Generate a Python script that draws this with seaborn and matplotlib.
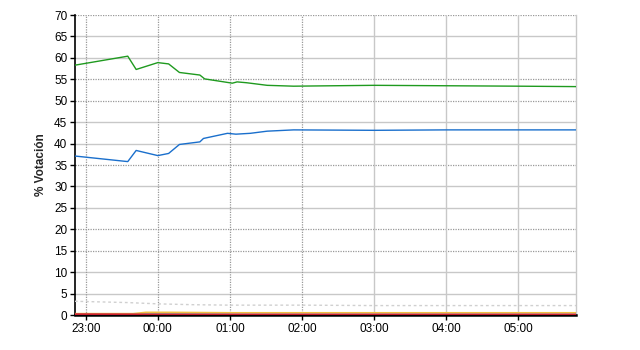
import matplotlib
matplotlib.use("Agg")
import matplotlib.pyplot as plt
import matplotlib.dates as mdates
import seaborn as sns
import pandas as pd
import numpy as np

sns.set_theme(style="white")
plt.rcParams['font.family'] = ['Liberation Sans', 'DejaVu Sans']

# Data (times as HH:MM, values in %)
green_times = ["22:51", "23:35", "23:42", "00:00", "00:09", "00:18", "00:35", "00:39",
               "01:02", "01:06", "01:14", "01:31", "01:53", "03:00", "04:00", "05:00", "05:48"]
green_vals = [58.3, 60.4, 57.3, 58.9, 58.6, 56.6, 56.0, 55.1,
              54.1, 54.4, 54.2, 53.6, 53.4, 53.6, 53.5, 53.4, 53.3]

blue_times = ["22:51", "23:35", "23:42", "00:00", "00:09", "00:18", "00:35", "00:38",
              "00:58", "01:05", "01:17", "01:31", "01:53", "03:00", "04:00", "05:00", "05:48"]
blue_vals = [37.1, 35.8, 38.4, 37.2, 37.7, 39.8, 40.4, 41.2,
             42.4, 42.2, 42.4, 42.9, 43.2, 43.1, 43.2, 43.2, 43.2]

grey_times = ["22:51", "23:35", "00:00", "00:30", "01:00", "02:00", "03:00", "04:00", "05:48"]
grey_vals = [3.2, 2.9, 2.6, 2.4, 2.3, 2.3, 2.2, 2.2, 2.2]

orange_times = ["22:51", "23:40", "23:50", "00:10", "01:00", "02:00", "03:00", "04:00", "05:48"]
orange_vals = [0.3, 0.3, 0.6, 0.6, 0.5, 0.5, 0.5, 0.5, 0.5]

cyan_times = ["23:40", "00:00", "00:30", "01:00"]
cyan_vals = [0.3, 0.3, 0.25, 0.2]

red_times = ["22:51", "00:00", "01:00", "02:00", "03:00", "04:00", "05:48"]
red_vals = [0.2, 0.15, 0.1, 0.1, 0.1, 0.1, 0.1]

purple_times = ["22:51", "00:00", "01:00", "02:00", "03:00", "04:00", "05:48"]
purple_vals = [0.1, 0.1, 0.15, 0.15, 0.15, 0.15, 0.15]

y_ticks = list(range(0, 75, 5))
x_tick_labels = ["23:00", "00:00", "01:00", "02:00", "03:00", "04:00", "05:00"]


def to_dt(times):
    out = []
    for t in times:
        h = int(t[:2])
        day = "2019-04-28" if h >= 12 else "2019-04-29"
        out.append(pd.Timestamp(f"{day} {t}"))
    return out


fig, ax = plt.subplots(figsize=(6.4, 3.5), dpi=100)
fig.subplots_adjust(left=0.117, right=0.9, top=0.957, bottom=0.1)

x0 = pd.Timestamp("2019-04-28 22:51")
x1 = pd.Timestamp("2019-04-29 05:48")
ax.set_xlim(x0, x1)
ax.set_ylim(0, 70)

# grid lines: some dotted, some solid, like the reference
dotted_y = {70, 55, 50, 35, 20, 15}
for v in y_ticks[1:]:
    if v in dotted_y:
        ax.axhline(v, color="#999999", lw=0.9, ls=(0, (1, 1)), zorder=0)
    else:
        ax.axhline(v, color="#c8c8c8", lw=1.0, ls="-", zorder=0)
xt = [pd.Timestamp(f"{'2019-04-28' if l.startswith('23') else '2019-04-29'} {l}") for l in x_tick_labels]
for i, t in enumerate(xt):
    if i < 4:
        ax.axvline(t, color="#999999", lw=0.9, ls=(0, (1, 1)), zorder=0)
    else:
        ax.axvline(t, color="#c8c8c8", lw=1.0, ls="-", zorder=0)

series = [
    (grey_times, grey_vals, "#d0d0d0", 1.0, (0, (2, 2))),
    (cyan_times, cyan_vals, "#66dddd", 1.2, "-"),
    (orange_times, orange_vals, "#f0c040", 1.3, "-"),
    (purple_times, purple_vals, "#b07ab0", 1.2, "-"),
    (red_times, red_vals, "#cc2030", 1.2, "-"),
    (green_times, green_vals, "#1f9a1f", 1.0, "-"),
    (blue_times, blue_vals, "#1a6fcc", 1.0, "-"),
]
for times, vals, col, lw, ls in series:
    df = pd.DataFrame({"t": to_dt(times), "v": vals})
    sns.lineplot(data=df, x="t", y="v", ax=ax, color=col, lw=lw, ls=ls, zorder=3)

ax.set_yticks(y_ticks)
ax.set_xticks(xt)
ax.set_xticklabels(x_tick_labels)
ax.tick_params(axis="both", labelsize=8.5, colors="black", length=3.5, width=1, direction="out",
               left=True, bottom=True, pad=2)
ax.set_xlabel("")
ax.set_ylabel("% Votación", fontsize=8.5, fontweight="bold", labelpad=5)

for s in ["top"]:
    ax.spines[s].set_visible(False)
ax.spines["right"].set_color("#c8c8c8")
ax.spines["right"].set_linewidth(1.0)
ax.spines["left"].set_color("black")
ax.spines["left"].set_linewidth(1.2)
ax.spines["bottom"].set_color("black")
ax.spines["bottom"].set_linewidth(1.8)

fig.savefig("out.png", dpi=100)
